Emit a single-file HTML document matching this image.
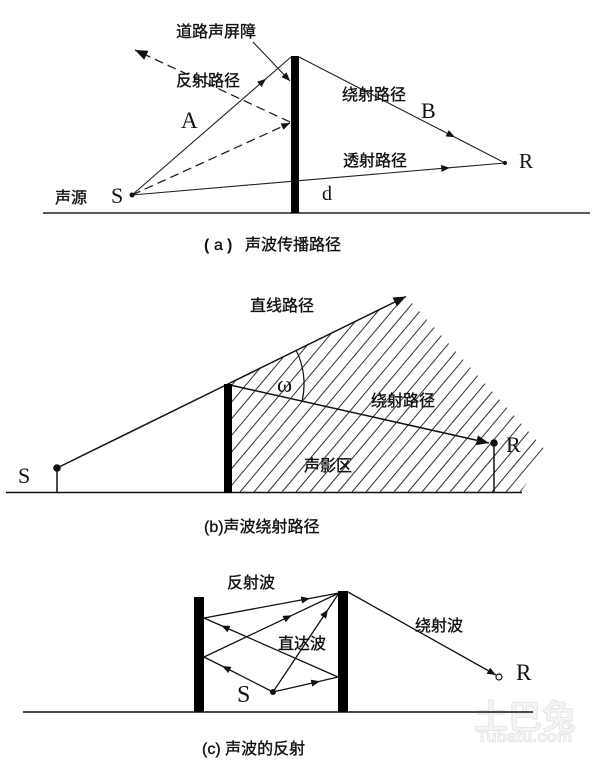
<!DOCTYPE html>
<html><head><meta charset="utf-8"><style>
html,body{margin:0;padding:0;background:#fff;}
svg{display:block;}
.cj{font-family:"Liberation Sans","Noto Sans CJK SC",sans-serif;font-size:16px;fill:#111;stroke:#111;stroke-width:0.35px;}
.sf{font-family:"Liberation Serif",serif;fill:#111;}
.pb{font-family:"Liberation Sans",sans-serif;font-size:16px;font-weight:bold;fill:#111;}
</style></head><body>
<svg width="600" height="766" viewBox="0 0 600 766" xmlns="http://www.w3.org/2000/svg">
<defs>
<marker id="m1" viewBox="0 0 10 8" refX="10" refY="4" markerWidth="9" markerHeight="7" markerUnits="userSpaceOnUse" orient="auto"><path d="M0,0L10,4L0,8z" fill="#111"/></marker>
<marker id="m2" viewBox="0 0 10 8" refX="10" refY="4" markerWidth="13" markerHeight="10" markerUnits="userSpaceOnUse" orient="auto"><path d="M0,0L10,4L0,8z" fill="#111"/></marker>
<clipPath id="hc"><polygon points="228,384 406,296.5 548,453 520,493 228,493"/></clipPath>
</defs>
<rect width="600" height="766" fill="#fff"/>

<!-- ===== Panel (a) ===== -->
<g stroke="#222" fill="none" stroke-width="1.1">
<line x1="43" y1="213" x2="590" y2="213" stroke-width="1.5"/>
<polyline points="132,195 266,78.7 291,57" marker-mid="url(#m1)"/>
<polyline points="299,57 455,137.3 505,163" marker-mid="url(#m1)"/>
<polyline points="132,195 450,167.7 505,163" marker-mid="url(#m1)"/>
<line x1="132" y1="195" x2="290" y2="123" stroke-dasharray="9,5" stroke-width="1.3" marker-end="url(#m1)"/>
<line x1="290" y1="122" x2="135" y2="50" stroke-dasharray="9,5" stroke-width="1.3" marker-end="url(#m2)"/>
<line x1="253" y1="42" x2="290" y2="81" marker-end="url(#m1)"/>
</g>
<rect x="291" y="56" width="8" height="157" fill="#000"/>
<circle cx="132" cy="195" r="2.5" fill="#111"/>
<circle cx="505" cy="163" r="2" fill="#111"/>
<text class="cj" x="176" y="37">道路声屏障</text>
<text class="cj" x="176" y="86">反射路径</text>
<text class="cj" x="342" y="100">绕射路径</text>
<text class="cj" x="343" y="166">透射路径</text>
<text class="cj" x="55" y="203">声源</text>
<text class="sf" x="111" y="203" font-size="22">S</text>
<text class="sf" x="181" y="128" font-size="23">A</text>
<text class="sf" x="421" y="118" font-size="22">B</text>
<text class="sf" x="519" y="168" font-size="21">R</text>
<text class="sf" x="322" y="200" font-size="20">d</text>
<text class="pb" x="204" y="250">(</text>
<text class="cj" x="214" y="250">a</text>
<text class="pb" x="227" y="250">)</text>
<text class="cj" x="245" y="250">声波传播路径</text>

<!-- ===== Panel (b) ===== -->
<g clip-path="url(#hc)" stroke="#333" stroke-width="1">
<line x1="100" y1="492" x2="310" y2="242"/>
<line x1="114" y1="492" x2="324" y2="242"/>
<line x1="128" y1="492" x2="338" y2="242"/>
<line x1="142" y1="492" x2="352" y2="242"/>
<line x1="156" y1="492" x2="366" y2="242"/>
<line x1="170" y1="492" x2="380" y2="242"/>
<line x1="184" y1="492" x2="394" y2="242"/>
<line x1="198" y1="492" x2="408" y2="242"/>
<line x1="212" y1="492" x2="422" y2="242"/>
<line x1="226" y1="492" x2="436" y2="242"/>
<line x1="240" y1="492" x2="450" y2="242"/>
<line x1="254" y1="492" x2="464" y2="242"/>
<line x1="268" y1="492" x2="478" y2="242"/>
<line x1="282" y1="492" x2="492" y2="242"/>
<line x1="296" y1="492" x2="506" y2="242"/>
<line x1="310" y1="492" x2="520" y2="242"/>
<line x1="324" y1="492" x2="534" y2="242"/>
<line x1="338" y1="492" x2="548" y2="242"/>
<line x1="352" y1="492" x2="562" y2="242"/>
<line x1="366" y1="492" x2="576" y2="242"/>
<line x1="380" y1="492" x2="590" y2="242"/>
<line x1="394" y1="492" x2="604" y2="242"/>
<line x1="408" y1="492" x2="618" y2="242"/>
<line x1="422" y1="492" x2="632" y2="242"/>
<line x1="436" y1="492" x2="646" y2="242"/>
<line x1="450" y1="492" x2="660" y2="242"/>
<line x1="464" y1="492" x2="674" y2="242"/>
<line x1="478" y1="492" x2="688" y2="242"/>
<line x1="492" y1="492" x2="702" y2="242"/>
<line x1="506" y1="492" x2="716" y2="242"/>
<line x1="520" y1="492" x2="730" y2="242"/>
<line x1="534" y1="492" x2="744" y2="242"/>
</g>
<g stroke="#111" fill="none" stroke-width="1.5">
<line x1="6" y1="492.5" x2="522" y2="492.5"/>
<line x1="57" y1="468" x2="57" y2="492"/>
<line x1="494" y1="443" x2="494" y2="492"/>
<polyline points="57,468 228,384 406,296.5" marker-end="url(#m2)"/>
<line x1="230" y1="385" x2="489" y2="443" marker-end="url(#m2)"/>
<path d="M296.2,350.4 A76,76 0 0 1 302.2,400.6" stroke-width="1.2"/>
</g>
<rect x="224" y="384" width="8" height="109" fill="#000"/>
<circle cx="57" cy="468" r="3.8" fill="#111"/>
<circle cx="494" cy="443" r="3.8" fill="#111"/>
<text class="cj" x="250" y="311">直线路径</text>
<text class="cj" x="371" y="406">绕射路径</text>
<text class="cj" x="304" y="471">声影区</text>
<text class="sf" x="277" y="392" font-size="23">ω</text>
<text class="sf" x="18" y="483" font-size="22">S</text>
<text class="sf" x="506" y="452" font-size="22">R</text>
<text class="cj" x="204" y="532">(b)声波绕射路径</text>

<!-- ===== Panel (c) ===== -->
<text x="474" y="729" font-family="Liberation Sans,Noto Sans CJK SC,sans-serif" font-size="34" font-weight="bold" fill="#f4f4f4" stroke="#e2e2e2" stroke-width="0.8">土巴兔</text>
<text x="477" y="742" font-family="Liberation Sans,sans-serif" font-size="17" font-weight="bold" fill="#f4f4f4" stroke="#e2e2e2" stroke-width="0.7">Tubatu.com</text>
<g stroke="#111" fill="none" stroke-width="1.3">
<line x1="23" y1="712" x2="533" y2="712" stroke-width="1.5"/>
<polyline points="273,692 320,681.2 338,677" marker-mid="url(#m1)"/>
<polyline points="273,692 222,666 204,657" marker-mid="url(#m1)"/>
<polyline points="273,692 328,609.5 339,593" marker-mid="url(#m1)"/>
<polyline points="204,657 292,615.3 339,593" marker-mid="url(#m1)"/>
<polyline points="338,677 221,625.5 204,618" marker-mid="url(#m1)"/>
<polyline points="204,618 310,598.4 339,593" marker-mid="url(#m1)"/>
<line x1="348" y1="592" x2="496" y2="675" marker-end="url(#m1)"/>
</g>
<rect x="194" y="597" width="10" height="115" fill="#000"/>
<rect x="338" y="591" width="10" height="121" fill="#000"/>
<circle cx="273" cy="692" r="3" fill="#111"/>
<circle cx="499" cy="677" r="3" fill="#fff" stroke="#111" stroke-width="1.2"/>
<text class="cj" x="227" y="588">反射波</text>
<text class="cj" x="278" y="649">直达波</text>
<text class="cj" x="415" y="631">绕射波</text>
<text class="sf" x="237" y="702" font-size="24">S</text>
<text class="sf" x="516" y="680" font-size="23">R</text>
<text class="cj" x="202" y="754">(c) 声波的反射</text>
</svg>
</body></html>
